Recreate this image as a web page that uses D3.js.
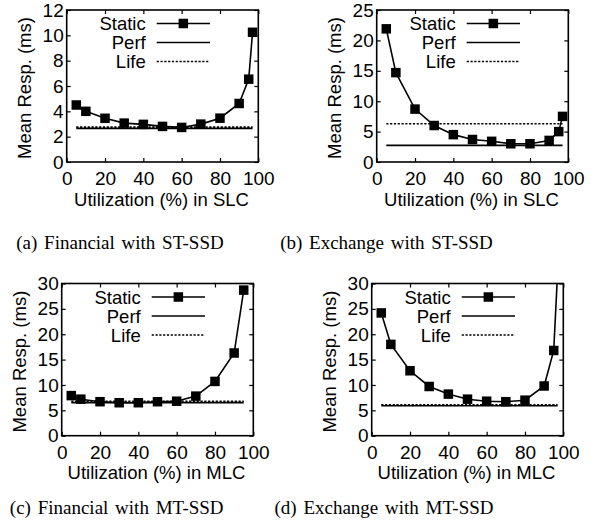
<!DOCTYPE html>
<html>
<head>
<meta charset="utf-8">
<script src="https://cdn.jsdelivr.net/npm/d3@7/dist/d3.min.js"></script>
<style>
  html, body { margin: 0; padding: 0; background: #fff; }
  svg { display: block; }
  text { font-family: "Liberation Sans", Arial, Helvetica, sans-serif; fill: #000; }
  .cap { font-family: "Liberation Serif", "Times New Roman", serif; }
</style>
</head>
<body>
<svg id="chart" width="603" height="531"></svg>
<script>
// ---- data ----
const xTicks = [0, 20, 40, 60, 80, 100];
const seriesNames = ["Static", "Perf", "Life"];

const xA = [5, 10, 20, 30, 40, 50, 60, 70, 80, 90, 95, 97];
const staticA = [4.5, 4.0, 3.45, 3.07, 2.97, 2.81, 2.73, 2.99, 3.46, 4.62, 6.54, 10.24];
const perfA = 2.65, lifeA = 2.75;
const yTicksA = [0, 2, 4, 6, 8, 10, 12];

const xB = [5, 10, 20, 30, 40, 50, 60, 70, 80, 90, 95, 97];
const staticB = [21.9, 14.7, 8.7, 6.0, 4.5, 3.7, 3.4, 3.0, 3.0, 3.55, 5.0, 7.5];
const perfB = 2.74, lifeB = 6.3;
const yTicksB = [0, 5, 10, 15, 20, 25];

const xC = [5, 10, 20, 30, 40, 50, 60, 70, 80, 90, 95];
const staticC = [7.9, 7.2, 6.7, 6.5, 6.5, 6.7, 6.8, 7.8, 10.7, 16.3, 28.7];
const perfC = 6.5, lifeC = 6.8;
const yTicksC = [0, 5, 10, 15, 20, 25, 30];

const xD = [5, 10, 20, 30, 40, 50, 60, 70, 80, 90, 95, 97];
const staticD = [24.2, 18.0, 12.8, 9.7, 8.2, 7.2, 6.8, 6.7, 7.0, 9.8, 16.8, 32];
const perfD = 5.9, lifeD = 6.1;
const yTicksD = [0, 5, 10, 15, 20, 25, 30];

const captions = ["(a) Financial with ST-SSD", "(b) Exchange with ST-SSD",
                  "(c) Financial with MT-SSD", "(d) Exchange with MT-SSD"];
const xLabels = ["Utilization (%) in SLC", "Utilization (%) in SLC",
                 "Utilization (%) in MLC", "Utilization (%) in MLC"];
const yLabel = "Mean Resp. (ms)";

// ---- layout ----
const panels = [
  { x: xA, s: staticA, perf: perfA, life: lifeA, yt: yTicksA, box: [66.7, 258.3, 10, 162], cap: [120, 248.5] },
  { x: xB, s: staticB, perf: perfB, life: lifeB, yt: yTicksB, box: [376.7, 568.3, 10, 162], cap: [386.5, 248.5] },
  { x: xC, s: staticC, perf: perfC, life: lifeC, yt: yTicksC, box: [61.7, 253.3, 283.5, 435.7], cap: [116.7, 513.5] },
  { x: xD, s: staticD, perf: perfD, life: lifeD, yt: yTicksD, box: [371.7, 563.3, 283.5, 435.7], cap: [384, 513.5] }
];

const svg = d3.select("#chart");
const FS = 18.5;
const TFS = 19;
const MK = 9.5;

panels.forEach((p, i) => {
  const [L, R, T, B] = p.box;
  const x = d3.scaleLinear().domain([0, 100]).range([L, R]);
  const y = d3.scaleLinear().domain([0, d3.max(p.yt)]).range([B, T]);
  const g = svg.append("g");
  const clipId = "clip" + i;
  g.append("clipPath").attr("id", clipId).append("rect")
    .attr("x", L).attr("y", T).attr("width", R - L).attr("height", B - T);

  const tl = 4;
  const styleAxis = a => {
    a.select(".domain").remove();
    a.selectAll("text").style("font-size", TFS + "px");
    a.selectAll("line").attr("stroke", "#000").attr("stroke-width", 1.2);
  };
  g.append("g").attr("transform", `translate(0,${B})`)
    .call(d3.axisBottom(x).tickValues(xTicks).tickSizeInner(-tl).tickSizeOuter(0).tickPadding(10))
    .call(styleAxis);
  g.append("g").attr("transform", `translate(0,${T})`)
    .call(d3.axisTop(x).tickValues(xTicks).tickSizeInner(-tl).tickSizeOuter(0).tickFormat(""))
    .call(styleAxis);
  g.append("g").attr("transform", `translate(${L},0)`)
    .call(d3.axisLeft(y).tickValues(p.yt).tickSizeInner(-tl).tickSizeOuter(0).tickPadding(3))
    .call(styleAxis);
  g.append("g").attr("transform", `translate(${R},0)`)
    .call(d3.axisRight(y).tickValues(p.yt).tickSizeInner(-tl).tickSizeOuter(0).tickFormat(""))
    .call(styleAxis);

  // border
  g.append("rect").attr("x", L).attr("y", T).attr("width", R - L).attr("height", B - T)
    .attr("fill", "none").attr("stroke", "#000").attr("stroke-width", 1.6);

  const xmin = d3.min(p.x), xmax = d3.max(p.x);
  const plot = g.append("g").attr("clip-path", `url(#${clipId})`);
  plot.append("line").attr("x1", x(xmin)).attr("x2", x(xmax)).attr("y1", y(p.perf)).attr("y2", y(p.perf))
    .attr("stroke", "#000").attr("stroke-width", 1.7);
  plot.append("line").attr("x1", x(xmin)).attr("x2", x(xmax)).attr("y1", y(p.life)).attr("y2", y(p.life))
    .attr("stroke", "#000").attr("stroke-width", 1.6).attr("stroke-dasharray", "2.2,1.6");
  const pts = p.x.map((v, k) => [v, p.s[k]]);
  plot.append("path").datum(pts)
    .attr("d", d3.line().x(d => x(d[0])).y(d => y(d[1])))
    .attr("fill", "none").attr("stroke", "#000").attr("stroke-width", 1.6);
  plot.selectAll("rect.mk").data(pts).enter().append("rect")
    .attr("x", d => x(d[0]) - MK / 2).attr("y", d => y(d[1]) - MK / 2)
    .attr("width", MK).attr("height", MK).attr("fill", "#000");

  // legend
  const lx0 = R - 101.6, lx1 = R - 48.3, tx = R - 112.6;
  seriesNames.forEach((name, k) => {
    const ly = T + 13.5 + k * 19;
    g.append("text").attr("x", tx).attr("y", ly).attr("text-anchor", "end")
      .attr("dominant-baseline", "central").style("font-size", FS + "px").text(name);
    const ln = g.append("line").attr("x1", lx0).attr("x2", lx1).attr("y1", ly).attr("y2", ly)
      .attr("stroke", "#000").attr("stroke-width", 1.7);
    if (k === 2) ln.attr("stroke-dasharray", "2.2,1.6").attr("stroke-width", 1.6);
    if (k === 0) g.append("rect").attr("x", (lx0 + lx1) / 2 - MK / 2).attr("y", ly - MK / 2)
      .attr("width", MK).attr("height", MK).attr("fill", "#000");
  });

  // axis labels
  g.append("text").attr("x", (L + R) / 2 - 1).attr("y", B + 43.5).attr("text-anchor", "middle")
    .style("font-size", FS + "px").text(xLabels[i]);
  g.append("text").attr("transform", `translate(${L - 36},${(T + B) / 2 + 2}) rotate(-90)`)
    .attr("text-anchor", "middle").style("font-size", FS + "px").text(yLabel);

  // caption
  svg.append("text").attr("class", "cap").attr("x", p.cap[0]).attr("y", p.cap[1])
    .attr("text-anchor", "middle").style("font-size", "19px").style("word-spacing", "2px").text(captions[i]);
});
</script>
</body>
</html>
